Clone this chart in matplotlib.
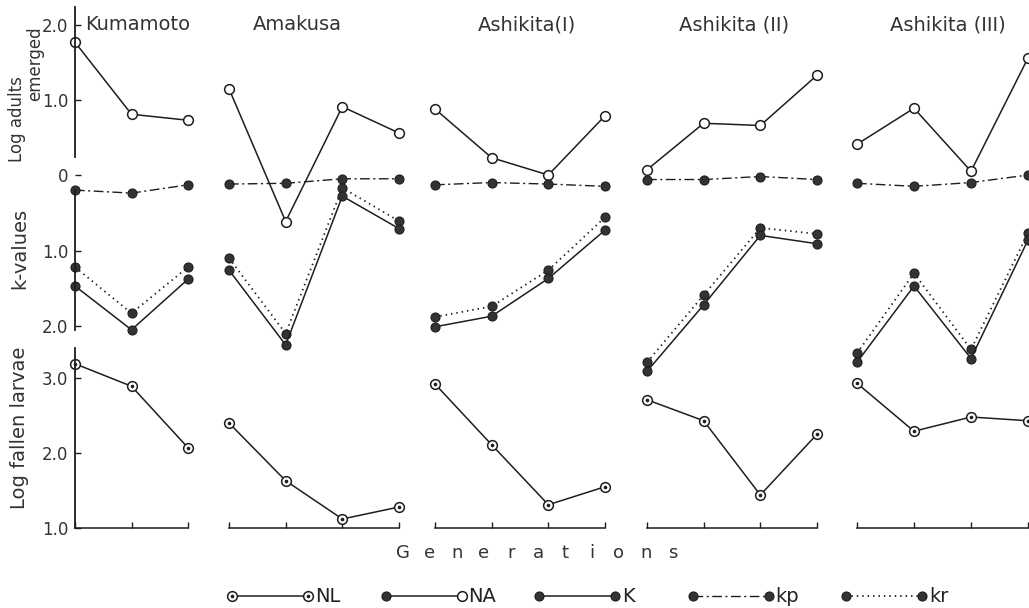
import matplotlib.pyplot as plt
import numpy as np

# sites and generations
sites = ['Kumamoto', 'Amakusa', 'Ashikita(I)', 'Ashikita (II)', 'Ashikita (III)']
n_gen = [3, 4, 4, 4, 4]

# log adults emerged (NA)
na_log = [[1.77, 0.81, 0.73],
          [1.15, -0.62, 0.91, 0.56],
          [0.88, 0.23, 0.00, 0.79],
          [0.07, 0.69, 0.66, 1.33],
          [0.41, 0.89, 0.05, 1.56]]

# k-values
kp_vals = [[0.20, 0.24, 0.13],
           [0.12, 0.11, 0.05, 0.05],
           [0.13, 0.10, 0.12, 0.15],
           [0.06, 0.06, 0.02, 0.06],
           [0.11, 0.15, 0.10, 0.00]]
kr_vals = [[1.22, 1.83, 1.22],
           [1.10, 2.10, 0.17, 0.61],
           [1.88, 1.74, 1.26, 0.56],
           [2.48, 1.59, 0.70, 0.78],
           [2.36, 1.30, 2.31, 0.77]]
K_vals = [[1.47, 2.05, 1.38],
          [1.26, 2.25, 0.28, 0.71],
          [2.01, 1.87, 1.37, 0.73],
          [2.60, 1.72, 0.80, 0.91],
          [2.48, 1.47, 2.43, 0.86]]

# log fallen larvae (NL)
nl_log = [[3.19, 2.89, 2.07],
          [2.40, 1.63, 1.12, 1.28],
          [2.92, 2.11, 1.31, 1.55],
          [2.71, 2.43, 1.44, 2.25],
          [2.93, 2.29, 2.48, 2.43]]

legend_labels = ['NL', 'NA', 'K', 'kp', 'kr']

W, H = 1029, 608
INK = '#1e1e1e'
TXT = '#333333'
plt.rcParams['font.family'] = 'DejaVu Sans'

fig = plt.figure(figsize=(W / 100, H / 100), dpi=100)


def box(x0, x1, ytop, ybot):
    return [x0 / W, 1 - ybot / H, (x1 - x0) / W, (ybot - ytop) / H]


# pixel layout of the panels (first and last generation)
col_x = [(75, 188), (229, 399), (435, 605), (647, 817), (857, 1028)]
title_x = [85, 297, 527, 734, 948]

open_mk = dict(marker='o', ms=7, mfc='white', mec=INK, mew=1.1)
dark_mk = dict(marker='o', ms=6.5, mfc='#333333', mec=INK, mew=0.8)
dash_dot = (0, (7, 2.5, 1.5, 2.5))
dots = (0, (0.8, 2.2))

for i, site in enumerate(sites):
    x0, x1 = col_x[i]
    gens = np.arange(1, n_gen[i] + 1)

    ax_t = fig.add_axes(box(x0, x1, 7, 175))
    ax_m = fig.add_axes(box(x0, x1, 175, 340))
    ax_b = fig.add_axes(box(x0, x1, 345, 528))
    for ax in (ax_t, ax_m, ax_b):
        ax.set_xlim(1, n_gen[i])
        ax.patch.set_alpha(0)
        for s in ax.spines.values():
            s.set_visible(False)
        ax.set_xticks([])
        ax.set_yticks([])
    ax_t.set_ylim(0, 2.24)
    ax_m.set_ylim(2.185, 0)
    ax_b.set_ylim(1.0, 3.44)

    # adults emerged
    ax_t.plot(gens, na_log[i], color=INK, lw=1.1, clip_on=False, **open_mk)

    # k-values
    ax_m.plot(gens, kp_vals[i], color=INK, lw=1.0, ls=dash_dot,
              clip_on=False, **dark_mk)
    ax_m.plot(gens, kr_vals[i], color=INK, lw=1.3, ls=dots,
              clip_on=False, **dark_mk)
    ax_m.plot(gens, K_vals[i], color=INK, lw=1.1, clip_on=False, **dark_mk)

    # fallen larvae
    ax_b.plot(gens, nl_log[i], color=INK, lw=1.1, clip_on=False, **open_mk)
    ax_b.plot(gens, nl_log[i], ls='none', marker='o', ms=1.6, color=INK,
              clip_on=False)

    # bracket-like generation axis
    ax_b.spines['bottom'].set_visible(True)
    ax_b.spines['bottom'].set_color(INK)
    ax_b.spines['bottom'].set_linewidth(1.1)
    ax_b.set_xticks(gens)
    ax_b.set_xticklabels([])
    ax_b.tick_params(axis='x', direction='in', length=4, width=1.0, color=INK)

    if i == 0:
        for ax, lo, hi, ticks, labels in (
                (ax_t, 0.24, 2.24, [0, 1, 2], ['0', '1.0', '2.0']),
                (ax_m, 0.2, 2.05, [1, 2], ['1.0', '2.0']),
                (ax_b, 1.0, 3.4, [1, 2, 3], ['1.0', '2.0', '3.0'])):
            ax.spines['left'].set_visible(True)
            ax.spines['left'].set_bounds(lo, hi)
            ax.spines['left'].set_color(INK)
            ax.spines['left'].set_linewidth(1.3)
            ax.set_yticks(ticks)
            ax.set_yticklabels(labels)
            ax.tick_params(axis='y', direction='in', length=4, width=1.0,
                           color=INK, labelsize=12, labelcolor=TXT, pad=5)
        fig.text(title_x[i] / W, 1 - 25 / H, site, ha='left', va='center',
                 fontsize=14, color=TXT)
    else:
        fig.text(title_x[i] / W, 1 - 25 / H, site, ha='center', va='center',
                 fontsize=14, color=TXT)

# axis titles on the left
fig.text(16.5 / W, 1 - 119 / H, 'Log adults', rotation=90, ha='center',
         va='center', fontsize=12, color=TXT)
fig.text(35.5 / W, 1 - 64 / H, 'emerged', rotation=90, ha='center',
         va='center', fontsize=12, color=TXT)
fig.text(20 / W, 1 - 248 / H, 'k-values', rotation=90, ha='center',
         va='center', fontsize=14, color=TXT)
fig.text(20 / W, 1 - 428 / H, 'Log fallen larvae', rotation=90, ha='center',
         va='center', fontsize=14, color=TXT)

# spaced-out "Generations"
word = 'Generations'
for j, ch in enumerate(word):
    fig.text((403 + j * 27) / W, 1 - 553 / H, ch, ha='center', va='center',
             fontsize=13, color=TXT)

# legend drawn by hand: line with a marker on each end
lax = fig.add_axes([0, 0, 1, 1])
lax.set_xlim(0, W)
lax.set_ylim(H, 0)
lax.set_axis_off()
lax.patch.set_alpha(0)
leg_y = 596
for j, lab in enumerate(legend_labels):
    xa = 232 + j * 153.5
    xb = xa + 76
    if lab == 'NL':
        lax.plot([xa, xb], [leg_y, leg_y], color=INK, lw=1.1, **open_mk)
        lax.plot([xa, xb], [leg_y, leg_y], ls='none', marker='o', ms=1.6, color=INK)
    elif lab == 'NA':
        lax.plot([xa, xb], [leg_y, leg_y], color=INK, lw=1.1)
        lax.plot([xa], [leg_y], ls='none', **dark_mk)
        lax.plot([xb], [leg_y], ls='none', **open_mk)
    elif lab == 'K':
        lax.plot([xa, xb], [leg_y, leg_y], color=INK, lw=1.1, **dark_mk)
    elif lab == 'kp':
        lax.plot([xa, xb], [leg_y, leg_y], color=INK, lw=1.0, ls=dash_dot,
                 **dark_mk)
    else:
        lax.plot([xa, xb], [leg_y, leg_y], color=INK, lw=1.3, ls=dots,
                 **dark_mk)
    lax.text(xb + 7, leg_y + 1, lab, ha='left', va='center', fontsize=14,
             color='#222222')

fig.savefig('out.png', dpi=100)
